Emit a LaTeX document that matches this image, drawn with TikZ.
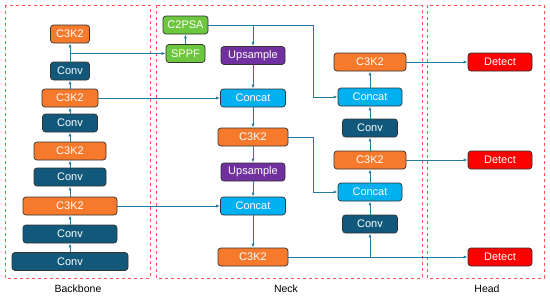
\documentclass[tikz,border=0pt]{standalone}
\usepackage{fontspec}
\setmainfont{Liberation Sans}
\definecolor{c3orange}{RGB}{247, 121, 44}
\definecolor{convteal}{RGB}{17, 88, 122}
\definecolor{catblue}{RGB}{0, 176, 240}
\definecolor{uppurple}{RGB}{112, 48, 160}
\definecolor{psagreen}{RGB}{108, 198, 62}
\definecolor{detred}{RGB}{255, 0, 0}
\definecolor{linkblue}{RGB}{38, 122, 160}
\definecolor{framered}{RGB}{255, 80, 80}
\usetikzlibrary{arrows.meta, positioning, calc}

\begin{document}
\begin{tikzpicture}[x=1pt, y=-1pt,
  blk/.style={draw=black!80, line width=0.7pt, rounded corners=3pt, text=white, inner sep=1pt, minimum height=18pt, font=\fontsize{11}{12}\selectfont},
  c3k/.style={blk, fill=c3orange},
  convbox/.style={blk, fill=convteal},
  catbox/.style={blk, fill=catblue, minimum width=64pt},
  upbox/.style={blk, fill=uppurple, minimum width=64pt},
  psabox/.style={blk, fill=psagreen},
  detbox/.style={blk, fill=detred, minimum width=64pt},
  frame/.style={draw=framered, dashed, line width=0.8pt},
  lbl/.style={font=\fontsize{10.5}{12}\selectfont},
  arr/.style={-{Latex[length=4pt, width=3pt]}, draw=linkblue, line width=0.8pt},
  link/.style={draw=linkblue, line width=0.8pt}
]
  \useasboundingbox (0,0) rectangle (550,298);

  % Frames
  \draw[frame] (5,5) rectangle (150,278);
  \draw[frame] (156,5) rectangle (422,278);
  \draw[frame] (427,5) rectangle (544,278);
  \node[lbl] (lbback) at (78,289) {Backbone};
  \node[lbl] (lbneck) at (286,289) {Neck};
  \node[lbl] (lbhead) at (487,289) {Head};

  % Backbone
  \node[c3k, minimum width=39pt] (b1) at (70,34) {C3K2};
  \node[convbox, minimum width=39pt] (b2) at (70,71) {Conv};
  \node[c3k, minimum width=56pt] (b3) at (70,98) {C3K2};
  \node[convbox, minimum width=55pt] (b4) at (70,123) {Conv};
  \node[c3k, minimum width=72pt] (b5) at (70,151) {C3K2};
  \node[convbox, minimum width=72pt] (b6) at (70,177) {Conv};
  \node[c3k, minimum width=94pt] (b7) at (70,206) {C3K2};
  \node[convbox, minimum width=94pt] (b8) at (70,234) {Conv};
  \node[convbox, minimum width=116pt] (b9) at (70,261.5) {Conv};

  \draw[arr] (b9) -- (b8);
  \draw[arr] (b8) -- (b7);
  \draw[arr] (b7) -- (b6);
  \draw[arr] (b6) -- (b5);
  \draw[arr] (b5) -- (b4);
  \draw[arr] (b4) -- (b3);
  \draw[arr] (b3) -- (b2);
  \draw[arr] (b2) -- (b1);

  % Neck, left column
  \node[psabox, minimum width=45pt] (psa) at (185.5,25) {C2PSA};
  \node[psabox, minimum width=39pt] (sppf) at (185.5,53.5) {SPPF};
  \node[upbox] (up1) at (253,55.5) {Upsample};
  \node[catbox, minimum width=65pt] (cat1) at (253,98) {Concat};
  \node[c3k, minimum width=70pt] (n1) at (253,137) {C3K2};
  \node[upbox] (up2) at (253,172) {Upsample};
  \node[catbox, minimum width=65pt] (cat2) at (253,206) {Concat};
  \node[c3k, minimum width=70pt] (n2) at (253,257) {C3K2};

  % Neck, right column
  \node[c3k, minimum width=72pt] (r1) at (370,62) {C3K2};
  \node[catbox] (cat3) at (370,97) {Concat};
  \node[convbox, minimum width=55pt] (r2) at (370,128) {Conv};
  \node[c3k, minimum width=72pt] (r3) at (370,160) {C3K2};
  \node[catbox] (cat4) at (370,192) {Concat};
  \node[convbox, minimum width=55pt] (r4) at (370,224) {Conv};

  % Head
  \node[detbox] (d1) at (500,62) {Detect};
  \node[detbox] (d2) at (500,160) {Detect};
  \node[detbox] (d3) at (500,257) {Detect};

  \coordinate (turn) at (313,0);

  % Backbone to neck
  \draw[arr] (b2.north |- sppf) -- (sppf);
  \draw[arr] (b3) -- (cat1);
  \draw[arr] (b7) -- (cat2);
  \draw[arr] (sppf) -- (psa);

  % Top-down path
  \draw[arr] (psa.east) -- (psa -| turn) |- (cat3);
  \draw[arr] (psa -| up1) -- (up1);
  \draw[arr] (up1) -- (cat1);
  \draw[arr] (cat1) -- (n1);
  \draw[arr] (n1) -- (up2);
  \draw[arr] (up2) -- (cat2);
  \draw[arr] (cat2) -- (n2);
  \draw[arr] (n1.east) -- (n1 -| turn) |- (cat4);

  % Bottom-up path
  \draw[arr] (n2) -- (d3);
  \draw[arr] (n2 -| r4) -- (r4);
  \draw[arr] (r4) -- (cat4);
  \draw[arr] (cat4) -- (r3);
  \draw[arr] (r3) -- (r2);
  \draw[arr] (r2) -- (cat3);
  \draw[arr] (cat3) -- (r1);
  \draw[arr] (r1) -- (d1);
  \draw[arr] (r3) -- (d2);
\end{tikzpicture}
\end{document}
